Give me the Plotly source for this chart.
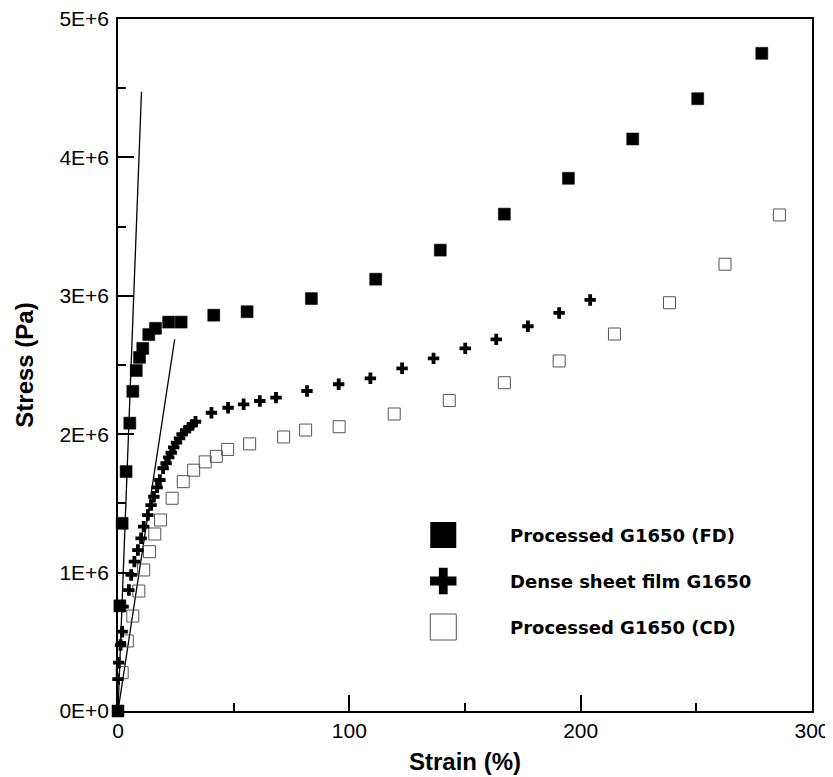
import plotly.graph_objects as go

# ---------------- data (strain %, stress Pa) ----------------
fd_strain = [0, 0.8, 1.8, 3.5, 5.1, 6.4, 7.9, 9.3, 10.7, 13.3, 16.2, 21.9, 27.3,
             41.4, 55.8, 83.6, 111.4, 139.3, 167.0, 194.7, 222.5, 250.6, 278.3]
fd_stress = [0, 0.76e6, 1.356e6, 1.73e6, 2.08e6, 2.31e6, 2.46e6, 2.555e6, 2.62e6,
             2.72e6, 2.765e6, 2.81e6, 2.81e6, 2.86e6, 2.885e6, 2.98e6, 3.12e6,
             3.33e6, 3.59e6, 3.849e6, 4.133e6, 4.424e6, 4.752e6]

dense_strain = [0, 0.3, 1.1, 1.8, 2.2, 4.7, 5.7, 7.1, 8.6, 10.0, 11.1, 12.9, 14.3,
                15.5, 16.9, 18.1, 19.5, 20.8, 21.9, 23.0, 24.1, 25.3, 26.6, 27.7,
                29.2, 30.6, 32.1, 33.5, 40.4, 47.6, 54.3, 61.3, 68.3, 81.7, 95.4,
                109.1, 122.8, 136.4, 150.1, 163.5, 177.2, 190.7, 204.1]
dense_stress = [0.231e6, 0.349e6, 0.477e6, 0.573e6, 0.754e6, 0.874e6, 0.983e6,
                1.079e6, 1.163e6, 1.248e6, 1.332e6, 1.416e6, 1.488e6, 1.548e6,
                1.616e6, 1.669e6, 1.754e6, 1.790e6, 1.833e6, 1.866e6, 1.905e6,
                1.939e6, 1.970e6, 2.001e6, 2.025e6, 2.047e6, 2.066e6, 2.090e6,
                2.155e6, 2.191e6, 2.216e6, 2.240e6, 2.264e6, 2.312e6, 2.361e6,
                2.404e6, 2.476e6, 2.548e6, 2.620e6, 2.685e6, 2.780e6, 2.876e6,
                2.970e6]

cd_strain = [1.8, 4.0, 6.4, 9.0, 11.1, 13.6, 15.9, 18.4, 23.4, 28.2, 32.7, 37.7,
             42.5, 47.4, 56.9, 71.6, 81.1, 95.6, 119.4, 143.2, 167.0, 190.7,
             214.6, 238.4, 262.4, 285.9]
cd_stress = [0.277e6, 0.506e6, 0.686e6, 0.867e6, 1.019e6, 1.151e6, 1.279e6,
             1.380e6, 1.537e6, 1.657e6, 1.74e6, 1.80e6, 1.84e6, 1.89e6, 1.93e6,
             1.98e6, 2.03e6, 2.054e6, 2.146e6, 2.243e6, 2.372e6, 2.529e6,
             2.724e6, 2.950e6, 3.228e6, 3.584e6]

# initial-slope (modulus) lines
line1_strain = [0, 10.15]
line1_stress = [0, 4.475e6]
line2_strain = [0, 24.5]
line2_stress = [0, 2.686e6]

series_names = ["Processed G1650 (FD)", "Dense sheet film G1650", "Processed G1650 (CD)"]

x_tickvals = [0, 100, 200, 300]
x_ticktext = ["0", "100", "200", "300"]
x_minor = [50, 150, 250]
y_tickvals = [0, 1e6, 2e6, 3e6, 4e6, 5e6]
y_ticktext = ["0E+0", "1E+6", "2E+6", "3E+6", "4E+6", "5E+6"]
y_minor = [0.5e6, 1.5e6, 2.5e6, 3.5e6, 4.5e6]

# ---------------- figure geometry ----------------
# The page body has an 8px default margin, so the figure starts at (8, 8)
OFF = 8
W, H = 833 - OFF, 777 - OFF
L, R, T, B = 117.5 - OFF, 812 - OFF, 19 - OFF, 711 - OFF   # plot area in figure px

fig = go.Figure()

for xs, ys in [(line1_strain, line1_stress), (line2_strain, line2_stress)]:
    fig.add_trace(go.Scatter(x=xs, y=ys, mode="lines", showlegend=False,
                             line=dict(color="black", width=1.3), cliponaxis=False))

fig.add_trace(go.Scatter(x=cd_strain, y=cd_stress, mode="markers", name=series_names[2],
                         showlegend=False, cliponaxis=False,
                         marker=dict(symbol="square-open", size=12,
                                     color="#555555", line=dict(width=1, color="#555555"))))
fig.add_trace(go.Scatter(x=dense_strain, y=dense_stress, mode="markers", name=series_names[1],
                         showlegend=False, cliponaxis=False,
                         marker=dict(symbol="cross", size=9.5, color="black",
                                     line=dict(width=0))))
fig.add_trace(go.Scatter(x=fd_strain, y=fd_stress, mode="markers", name=series_names[0],
                         showlegend=False, cliponaxis=False,
                         marker=dict(symbol="square", size=12, color="black",
                                     line=dict(width=0.5, color="black"))))

# ---------------- hand-drawn legend (overlay axis in plot fractions) ----------------
def px_to_frac(px, py):
    # px, py are screenshot pixels
    return (px - OFF - L) / (R - L), (B - (py - OFF)) / (B - T)

legend_rows_py = [535, 581, 627]
legend_marker_px = 443
legend_text_px = 508
legend_styles = [
    dict(symbol="square", size=26, color="black", line=dict(width=0)),
    dict(symbol="cross", size=22, color="black", line=dict(width=0)),
    dict(symbol="square-open", size=26, color="#555555", line=dict(width=1, color="#555555")),
]
for name, py, st in zip(series_names, legend_rows_py, legend_styles):
    fx, fy = px_to_frac(legend_marker_px, py)
    fig.add_trace(go.Scatter(x=[fx], y=[fy], xaxis="x2", yaxis="y2", mode="markers",
                             showlegend=False, marker=st, hoverinfo="skip"))
    tx, ty = px_to_frac(legend_text_px, py)
    fig.add_annotation(x=tx, y=ty, xref="paper", yref="paper", text=name,
                       showarrow=False, xanchor="left", yanchor="middle",
                       font=dict(family="DejaVu Sans", size=18, color="black", weight="bold"))

axis_common = dict(showline=True, linecolor="black", linewidth=1.5, mirror=True,
                   ticks="inside", ticklen=16, tickwidth=1.5, tickcolor="black",
                   showgrid=False, zeroline=False, automargin=False,
                   ticklabeloverflow="allow",
                   tickfont=dict(family="Liberation Sans", size=21, color="black"))

fig.update_layout(
    width=W, height=H,
    margin=dict(l=L, r=W - R, t=T, b=H - B, pad=0),
    paper_bgcolor="white", plot_bgcolor="white",
    showlegend=False,
    xaxis=dict(range=[0, 300], tickmode="array", tickvals=x_tickvals, ticktext=x_ticktext,
               minor=dict(tickvals=x_minor, ticks="inside", ticklen=8, tickwidth=1.5,
                          tickcolor="black"),
               title=dict(text="<b>Strain (%)</b>", standoff=12,
                          font=dict(family="Liberation Sans", size=24, color="black")),
               **axis_common),
    yaxis=dict(range=[0, 5e6], tickmode="array", tickvals=y_tickvals, ticktext=y_ticktext,
               minor=dict(tickvals=y_minor, ticks="inside", ticklen=8, tickwidth=1.5,
                          tickcolor="black"),
               ticklabelstandoff=3,
               title=dict(text="<b>Stress (Pa)</b>", standoff=19,
                          font=dict(family="Liberation Sans", size=24, color="black")),
               **axis_common),
    xaxis2=dict(overlaying="x", range=[0, 1], visible=False),
    yaxis2=dict(overlaying="y", range=[0, 1], visible=False),
)

fig.write_html("out.html")
